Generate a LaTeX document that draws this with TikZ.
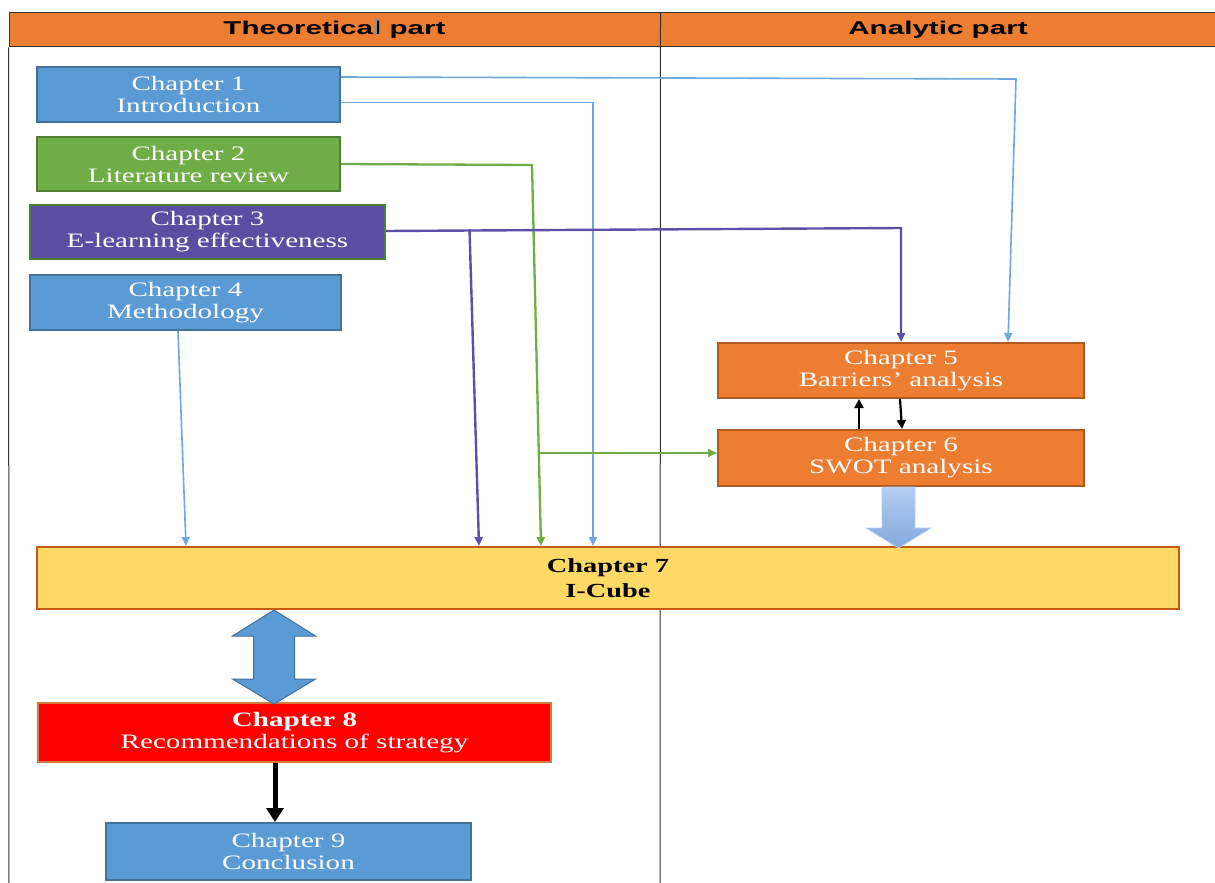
\documentclass[tikz,border=0pt]{standalone}
\usepackage{fontspec}
\setmainfont{Liberation Serif}[FakeStretch=1.42]
\newfontfamily\hdrfont{Liberation Sans}[FakeStretch=1.6]
\usetikzlibrary{arrows.meta,calc}
\definecolor{hdrorange}{HTML}{ED7D31}
\definecolor{cblue}{HTML}{5B9BD5}
\definecolor{cblueb}{HTML}{41719C}
\definecolor{cgreen}{HTML}{70AD47}
\definecolor{cgreenb}{HTML}{507E32}
\definecolor{cpurple}{HTML}{5B4EA2}
\definecolor{corange}{HTML}{ED7D31}
\definecolor{corangeb}{HTML}{AE5A21}
\definecolor{cyellow}{HTML}{FFD966}
\definecolor{cyellowb}{HTML}{C55A11}
\definecolor{cred}{HTML}{FF0000}
\definecolor{credb}{HTML}{D27A3C}
\definecolor{lblue}{HTML}{6FA8DC}
\definecolor{lpurple}{HTML}{5E4FA8}
\definecolor{fatlight}{HTML}{B3CEF0}
\definecolor{fatdark}{HTML}{82A9DE}
\tikzset{
  hdr/.style={draw=black!80, line width=1pt, fill=hdrorange, inner sep=0pt,
    font=\hdrfont\bfseries\fontsize{18.5}{20}\selectfont, text=black},
  chbox/.style={draw, line width=2pt, inner sep=0pt, align=center, text=white,
    font=\fontsize{20.5}{22}\selectfont},
  thinarr/.style={line width=1.6pt, -{Triangle[width=8pt,length=9pt]}},
  blackarr/.style={line width=2.2pt, black, -{Triangle[width=9pt,length=9pt]}},
}
\begin{document}
\begin{tikzpicture}[x=1pt,y=-1pt]
\useasboundingbox (0,0) rectangle (1215,883);
% header
\node[hdr, minimum width=651, minimum height=34] (h1) at (334.5,30) {Theoretical part};
\node[hdr, minimum width=556, minimum height=34] (h2) at (938,30) {Analytic part};
\draw[cblue, line width=1.2pt] (376,18) -- (376,35);
\draw[black!80, line width=1pt] (h1.south west) -- (9,883);
\draw[black!80, line width=1pt] (h1.north east) -- (660,883);
% chapter boxes
\node[chbox, fill=cblue, draw=cblueb, minimum width=303, minimum height=55] (ch1) at (188.5,94.5) {Chapter 1\\Introduction};
\node[chbox, fill=cgreen, draw=cgreenb, minimum width=303, minimum height=54] (ch2) at (188.5,164) {Chapter 2\\Literature review};
\node[chbox, fill=cpurple, draw=cgreenb, minimum width=355, minimum height=54] (ch3) at (207.5,232) {Chapter 3\\E-learning effectiveness};
\node[chbox, fill=cblue, draw=cblueb, minimum width=311, minimum height=55] (ch4) at (185.5,302.5) {Chapter 4\\Methodology};
\node[chbox, fill=corange, draw=corangeb, minimum width=366, minimum height=55] (ch5) at (901,370.5) {Chapter 5\\Barriers’ analysis};
\node[chbox, fill=corange, draw=corangeb, minimum width=366, minimum height=56] (ch6) at (901,458) {Chapter 6\\SWOT analysis};
\node[chbox, fill=cyellow, draw=cyellowb, text=black, font=\bfseries\fontsize{20}{25}\selectfont, minimum width=1142, minimum height=62] (ch7) at (608,578) {Chapter 7\\I-Cube};
\node[chbox, fill=cred, draw=credb, line width=1.5pt, minimum width=513, minimum height=59] (ch8) at (294.5,732.5) {\textbf{Chapter 8}\\Recommendations of strategy};
\node[chbox, fill=cblue, draw=cblueb, minimum width=365, minimum height=57] (ch9) at (288.5,851.5) {Chapter 9\\Conclusion};
% connectors from chapter 1
\draw[thinarr, lblue] ([yshift=17.5]ch1.east) -- (1016,79) -- ([xshift=107]ch5.north);
\draw[thinarr, lblue] ([yshift=-8]ch1.east) -- (593,102.5) -- ([xshift=-15]ch7.north);
% chapter 2
\coordinate (g) at (538.8,453);
\draw[thinarr, cgreen, line width=2.3pt] (ch2.east) -- (532,165) -- ([xshift=-67]ch7.north);
\draw[thinarr, cgreen, line width=1.8pt] (g) -- ([yshift=5]ch6.west);
% chapter 3
\coordinate (p) at (469.5,229);
\draw[thinarr, lpurple, line width=2.4pt] ([yshift=1]ch3.east) -- (901,228) -- (ch5.north);
\draw[thinarr, lpurple, line width=2.4pt] (p) -- ([xshift=-129]ch7.north);
% chapter 4
\draw[thinarr, lblue] ([xshift=-7.5]ch4.south) -- ([xshift=-422]ch7.north);
% ch5 <-> ch6
\draw[blackarr] ([xshift=-1]ch5.south) -- ([xshift=1]ch6.north);
\draw[blackarr] ([xshift=-42]ch6.north) -- ([xshift=-42]ch5.south);
% fat arrow ch6 -> ch7
\coordinate (fa) at ([xshift=-2.5]ch6.south);
\shade[top color=fatlight, bottom color=fatdark, draw=fatlight, line width=0.6pt]
  ($(fa)+(-16.5,0)$) -- ($(fa)+(16.5,0)$) -- ($(fa)+(16.5,41)$) -- ($(fa)+(32.5,41)$)
  -- ($(fa)+(0,61)$) -- ($(fa)+(-32.5,41)$) -- ($(fa)+(-16.5,41)$) -- cycle;
% double arrow ch7 <-> ch8
\coordinate (da) at ([xshift=-334]ch7.south);
\filldraw[fill=cblue, draw=cblueb, line width=1pt]
  (da) -- ($(da)+(41.5,26)$) -- ($(da)+(20.5,26)$) -- ($(da)+(20.5,69)$) -- ($(da)+(41.5,69)$)
  -- ($(da)+(0,94)$) -- ($(da)+(-41.5,69)$) -- ($(da)+(-20.5,69)$) -- ($(da)+(-20.5,26)$)
  -- ($(da)+(-41.5,26)$) -- cycle;
% ch8 -> ch9
\draw[line width=5pt, black, -{Triangle[width=17pt,length=14pt]}] ([xshift=-19.5]ch8.south) -- ([xshift=-13.5]ch9.north);
\end{tikzpicture}
\end{document}
